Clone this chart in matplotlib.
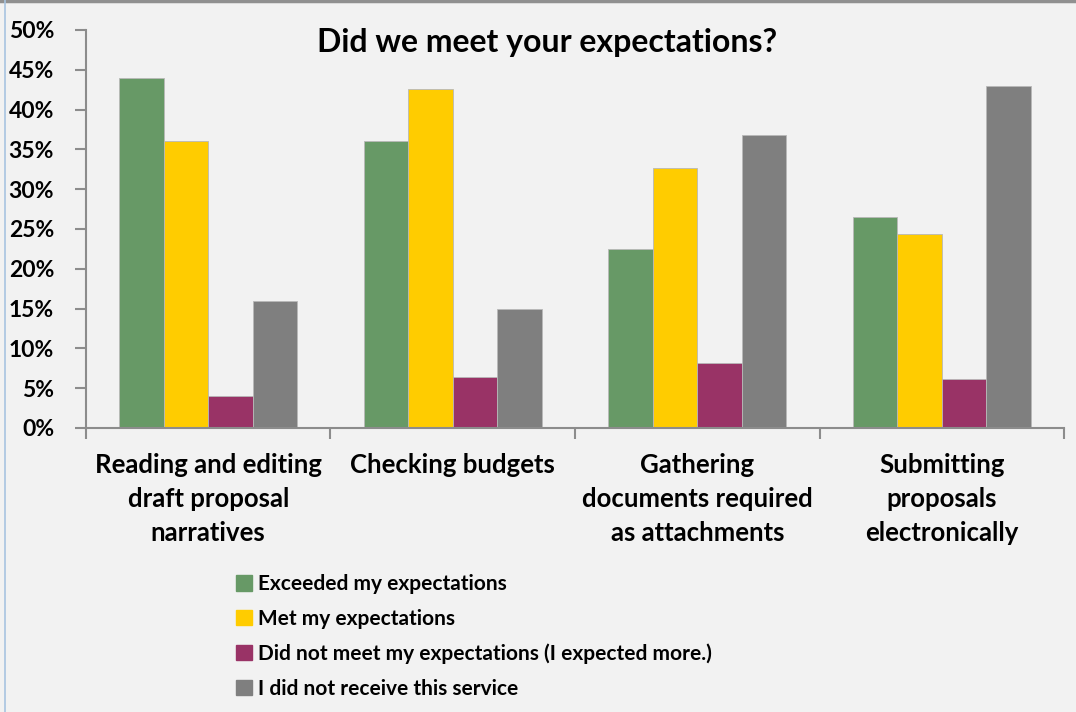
import matplotlib.pyplot as plt
import numpy as np
from matplotlib.lines import Line2D

categories = ['Reading and editing\ndraft proposal\nnarratives', 'Checking budgets',
              'Gathering\ndocuments required\nas attachments', 'Submitting\nproposals\nelectronically']
series_names = ['Exceeded my expectations', 'Met my expectations',
                'Did not meet my expectations (I expected more.)', 'I did not receive this service']
exceeded = [44.0, 36.0, 22.5, 26.5]
met = [36.0, 42.6, 32.7, 24.4]
not_met = [4.0, 6.4, 8.2, 6.2]
no_service = [16.0, 15.0, 36.8, 42.9]
colors = ['#679966', '#FFCC00', '#993366', '#7F7F7F']

plt.rcParams['font.family'] = ['Lato', 'DejaVu Sans']
bg = '#F2F2F2'

fig = plt.figure(figsize=(10.76, 7.12), dpi=100, facecolor=bg)
ax = fig.add_axes([0.0799, 0.3989, 0.9090, 0.5590])
ax.set_facecolor(bg)

x = np.arange(len(categories))
w = 0.182
values = [exceeded, met, not_met, no_service]
for i, vals in enumerate(values):
    ax.bar(x + (i - 1.5) * w, vals, w, color=colors[i], edgecolor='#B8B8B8',
           linewidth=0.6, label=series_names[i], zorder=2)

ax.set_xlim(-0.5, len(categories) - 0.5)
ax.set_ylim(0, 50)
ax.set_yticks(np.arange(0, 51, 5))
ax.set_yticklabels([f'{v}%' for v in range(0, 51, 5)], fontsize=16.5, fontweight='bold')
ax.set_xticks(np.arange(-0.5, len(categories)))
ax.set_xticklabels([])
ax.tick_params(axis='x', length=8, width=1.5, color='#8C8C8C', direction='out')
ax.tick_params(axis='y', length=8, width=1.5, color='#8C8C8C', direction='out', pad=15)
for c, label in zip(x, categories):
    ax.text(c, -3.1, label, ha='center', va='top', fontsize=18.5, fontweight='bold',
            linespacing=1.5, transform=ax.transData)

for s in ['top', 'right']:
    ax.spines[s].set_visible(False)
for s in ['left', 'bottom']:
    ax.spines[s].set_color('#8C8C8C')
    ax.spines[s].set_linewidth(1.5)

fig.text(0.508, 0.94, 'Did we meet your expectations?', ha='center', va='center',
         fontsize=23, fontweight='bold')

handles = [plt.Rectangle((0, 0), 1, 1, color=c) for c in colors]
fig.legend(handles, series_names, loc='upper left', bbox_to_anchor=(0.212, 0.205),
           frameon=False, prop={'weight': 'bold', 'size': 15},
           handlelength=0.75, handleheight=0.75, handletextpad=0.3, labelspacing=0.7,
           borderaxespad=0)

# window borders
fig.add_artist(Line2D([0, 1], [0.999, 0.999], color='#909090', linewidth=2.5))
fig.add_artist(Line2D([0.005, 0.005], [0, 1], color='#A8C4E0', linewidth=1.2))

fig.savefig('out.png', dpi=100, facecolor=bg)
